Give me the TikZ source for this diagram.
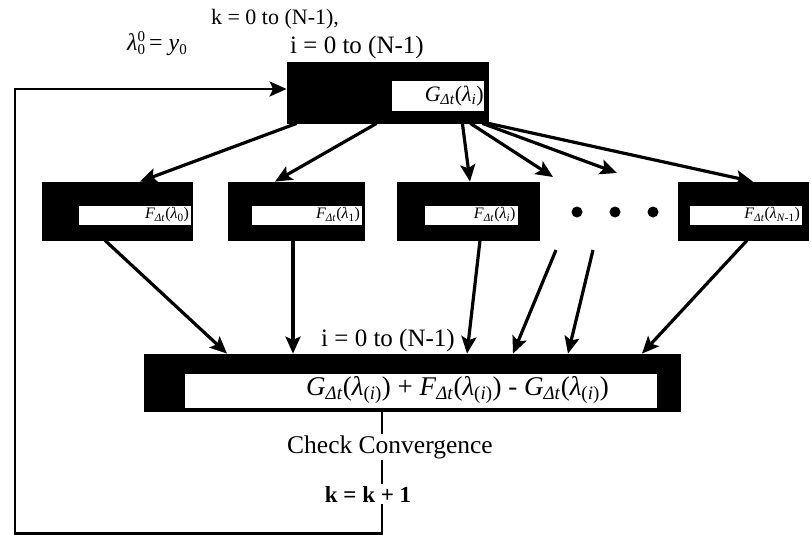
\documentclass[tikz,border=0pt]{standalone}
\usepackage{fontspec}
\setmainfont{Liberation Serif}
\usetikzlibrary{arrows.meta}
% propagators and iterates set in the text face
\newcommand{\Gdt}{\textit{G}\textsubscript{\textit{Δt}}}
\newcommand{\Fdt}{\textit{F}\textsubscript{\textit{Δt}}}
\newcommand{\lamsub}[1]{\textit{λ}\textsubscript{#1}}
\begin{document}
\begin{tikzpicture}[x=1pt,y=-1pt,
  blackbox/.style={fill=black, draw=black, line width=0.8pt, inner sep=0pt},
  strip/.style={fill=white, draw=none, inner sep=0pt},
  fml/.style={inner sep=0pt, text=black},
  tip/.tip={Stealth[length=17pt,width=15pt,inset=3.5pt]},
  flow/.style={line width=3.2pt, -tip},
  loopline/.style={line width=2.8pt},
  lbl/.style={inner sep=0pt},
  dotmark/.style={circle, fill=black, inner sep=0pt, minimum size=11pt}]
\useasboundingbox (0,0) rectangle (811,535);

% labels above the coarse step
\node[lbl, anchor=base, font=\fontsize{22}{26}\selectfont] (kfirst) at (275,25) {k = 0 to (N-1),};
\node[lbl, anchor=base west, font=\fontsize{25}{29}\selectfont] (itop) at (290,54) {i = 0 to (N-1)};
\node[lbl, anchor=base west, font=\fontsize{24}{28}\selectfont] (init) at (127,51)
  {\textit{λ}\raisebox{-4pt}{\fontsize{15}{15}\selectfont\shortstack[l]{0\\0}}\,= \textit{y}\raisebox{-4pt}{\fontsize{15}{15}\selectfont 0}};

% coarse step
\node[blackbox, minimum width=201pt, minimum height=61pt] (top) at (387.5,92.5) {};
\node[strip, minimum width=92pt, minimum height=30pt] (topstrip) at (438,96) {};
\node[fml, anchor=east, font=\fontsize{22}{26}\selectfont] (topf) at (484,96) {\Gdt(\lamsub{\textit{i}})};

% fine steps
\node[blackbox, minimum width=150pt, minimum height=58pt] (f0) at (117,211) {};
\node[blackbox, minimum width=136pt, minimum height=58pt] (f1) at (296,211) {};
\node[blackbox, minimum width=142pt, minimum height=58pt] (fi) at (468,211) {};
\node[blackbox, minimum width=130pt, minimum height=58pt] (fn) at (743,211) {};

\node[strip, minimum width=112pt, minimum height=19pt] (s0) at (135,215) {};
\node[strip, minimum width=110pt, minimum height=19pt] (s1) at (307,215) {};
\node[strip, minimum width=93pt, minimum height=19pt] (si) at (471,215) {};
\node[strip, minimum width=112pt, minimum height=19pt] (sn) at (746,215) {};

\node[fml, anchor=east, font=\fontsize{16}{18}\selectfont] at ([xshift=-2pt]s0.east) {\Fdt(\lamsub{0})};
\node[fml, anchor=east, font=\fontsize{16}{18}\selectfont] at ([xshift=-2pt]s1.east) {\Fdt(\lamsub{1})};
\node[fml, anchor=east, font=\fontsize{16}{18}\selectfont] at ([xshift=-2pt]si.east) {\Fdt(\lamsub{\textit{i}})};
\node[fml, anchor=east, font=\fontsize{16}{18}\selectfont] at ([xshift=-2pt]sn.east) {\Fdt(\lamsub{\textit{N}-1})};

\node[dotmark] (dot1) at (577,212) {};
\node[dotmark] (dot2) at (615,212) {};
\node[dotmark] (dot3) at (653,212) {};

% correction step
\node[blackbox, minimum width=536pt, minimum height=57pt] (corr) at (412,382.5) {};
\node[strip, minimum width=472pt, minimum height=34pt] (cstrip) at (421,391) {};
\node[fml, anchor=east, font=\fontsize{27}{31}\selectfont] (cf) at (609,390)
  {\Gdt(\lamsub{(\textit{i})}) + \Fdt(\lamsub{(\textit{i})}) - \Gdt(\lamsub{(\textit{i})})};
\node[lbl, anchor=base, font=\fontsize{25}{29}\selectfont] (ibot) at (388,346) {i = 0 to (N-1)};

% free ends of the two extra fine-step arrows
\coordinate (d1) at (553,177);
\coordinate (d2) at (617,173);
\coordinate (e1) at (556,250);
\coordinate (e2) at (593,250);

% coarse -> fine
\draw[flow] ([xshift=10pt]top.south west) -- ([xshift=23pt]f0.north);
\draw[flow] ([xshift=90pt]top.south west) -- ([xshift=-21pt]f1.north);
\draw[flow] ([xshift=-26pt]top.south east) -- ([xshift=2pt]fi.north);
\draw[flow] ([xshift=-18pt]top.south east) -- (d1);
\draw[flow] ([xshift=-6pt]top.south east) -- (d2);
\draw[flow] (top.south east) -- ([xshift=10pt]fn.north);

% fine -> correction
\draw[flow] ([xshift=-12pt]f0.south) -- ([xshift=-185pt]corr.north);
\draw[flow] ([xshift=-3pt]f1.south) -- ([xshift=-119pt]corr.north);
\draw[flow] ([xshift=12pt]fi.south) -- ([xshift=55pt]corr.north);
\draw[flow] (e1) -- ([xshift=101pt]corr.north);
\draw[flow] (e2) -- ([xshift=156pt]corr.north);
\draw[flow] ([xshift=4pt]fn.south) -- ([xshift=230pt]corr.north);

% iteration loop
\coordinate (loopin) at (15,89);
\draw[loopline, -tip]
  ([xshift=-30pt]corr.south) -- ++(0,122) -| (loopin) -- (top.west |- loopin);
\node[lbl, fill=white, inner ysep=1pt, anchor=base, font=\fontsize{25.5}{30}\selectfont] (conv) at (390,453) {Check Convergence};
\node[lbl, fill=white, inner ysep=2pt, anchor=base, font=\fontsize{23}{27}\selectfont\bfseries] (kinc) at (368,502) {k = k + 1};
\end{tikzpicture}
\end{document}
